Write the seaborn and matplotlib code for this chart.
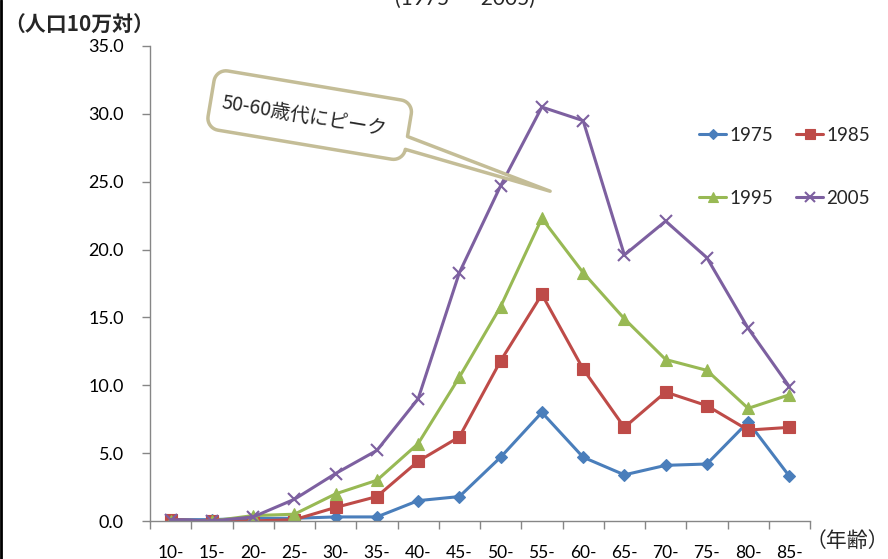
import numpy as np
import pandas as pd
import matplotlib
matplotlib.use("Agg")
import matplotlib.pyplot as plt
import seaborn as sns
from matplotlib.lines import Line2D
from matplotlib.patches import Polygon
from matplotlib.transforms import IdentityTransform

# ---- data -------------------------------------------------------------
age_groups = ["10-", "15-", "20-", "25-", "30-", "35-", "40-", "45-",
              "50-", "55-", "60-", "65-", "70-", "75-", "80-", "85-"]
years = ["1975", "1985", "1995", "2005"]

rate_1975 = [0.1, 0.1, 0.2, 0.2, 0.3, 0.3, 1.5, 1.8, 4.7, 8.0, 4.7, 3.4, 4.1, 4.2, 7.3, 3.3]
rate_1985 = [0.1, 0.0, 0.0, 0.1, 1.0, 1.8, 4.4, 6.2, 11.8, 16.7, 11.2, 6.9, 9.5, 8.5, 6.7, 6.9]
rate_1995 = [0.0, 0.0, 0.4, 0.5, 2.0, 3.0, 5.7, 10.6, 15.8, 22.3, 18.3, 14.9, 11.9, 11.1, 8.3, 9.3]
rate_2005 = [0.1, 0.0, 0.3, 1.6, 3.5, 5.2, 9.0, 18.3, 24.7, 30.5, 29.5, 19.6, 22.1, 19.4, 14.2, 9.9]

y_ticks = [0, 5, 10, 15, 20, 25, 30, 35]

series = {"1975": rate_1975, "1985": rate_1985, "1995": rate_1995, "2005": rate_2005}
colors = {"1975": "#4A7EBB", "1985": "#BE4B48", "1995": "#98B954", "2005": "#7D60A0"}
markers = {"1975": "D", "1985": "s", "1995": "^", "2005": "x"}
msizes = {"1975": 6, "1985": 8.5, "1995": 8.5, "2005": 8}

df = pd.DataFrame([
    {"year": y, "pos": i, "age": a, "rate": v}
    for y in years for i, (a, v) in enumerate(zip(age_groups, series[y]))
])

# ---- figure -----------------------------------------------------------
sns.set_theme(style="white")
plt.rcParams["font.family"] = ["Lato", "Noto Sans CJK JP", "DejaVu Sans"]

W_PX, H_PX = 888, 559
fig = plt.figure(figsize=(W_PX / 100, H_PX / 100), dpi=100)
ax = fig.add_axes([150 / W_PX, 38 / H_PX, 660 / W_PX, 475 / H_PX])

for y in years:
    sub = df[df["year"] == y]
    sns.lineplot(data=sub, x="pos", y="rate", ax=ax, color=colors[y],
                 marker=markers[y], markersize=msizes[y],
                 markeredgecolor=colors[y], markerfacecolor=colors[y],
                 markeredgewidth=1.5 if y == "2005" else 0.8,
                 linewidth=2.2, legend=False)

# ---- axes styling -----------------------------------------------------
ax.set_xlim(-0.5, len(age_groups) - 0.5)
ax.set_ylim(0, 35)
ax.set_yticks(y_ticks)
ax.set_yticklabels([f"{v:.1f}" for v in y_ticks], fontsize=13, color="black")
ax.set_xticks(range(len(age_groups)))
ax.set_xticklabels(age_groups, fontsize=12.5, color="black")
ax.set_xticks(np.arange(-0.5, len(age_groups), 1.0), minor=True)
ax.set_xlabel("")
ax.set_ylabel("")
for side in ["top", "right"]:
    ax.spines[side].set_visible(False)
for side in ["left", "bottom"]:
    ax.spines[side].set_color("#868686")
    ax.spines[side].set_linewidth(1.0)
ax.tick_params(axis="y", which="major", direction="out", length=6, width=1,
               color="#868686", pad=13, left=True)
ax.tick_params(axis="x", which="major", length=0, pad=17)
ax.tick_params(axis="x", which="minor", direction="out", length=6, width=1,
               color="#868686", bottom=True)
ax.grid(False)

# axis titles
fig.text(79 / W_PX, 1 - 25 / H_PX, "（人口10万対）", ha="center", va="center",
         fontsize=15, fontweight="bold", family=["Noto Sans CJK JP", "DejaVu Sans"])
fig.text(847 / W_PX, 1 - 541 / H_PX, "（年齢）", ha="center", va="center",
         fontsize=15, family=["Noto Sans CJK JP", "DejaVu Sans"])

# chart subtitle (upper part runs off the top edge)
fig.text(465 / W_PX, 1 - 5 / H_PX, "(1975 ～ 2005)", ha="center", va="baseline",
         fontsize=15, family=["Lato", "Noto Sans CJK JP"])

# ---- legend -----------------------------------------------------------
order = ["1975", "1995", "1985", "2005"]
handles = [Line2D([], [], color=colors[y], marker=markers[y], markersize=msizes[y] * 0.9,
                  markeredgecolor=colors[y], markerfacecolor=colors[y],
                  markeredgewidth=1.5 if y == "2005" else 0.8, linewidth=2.2)
           for y in order]
fig.legend(handles, order, ncol=2, frameon=False, loc="upper left",
           bbox_to_anchor=(699 / W_PX, 1 - 127 / H_PX), borderpad=0, borderaxespad=0,
           fontsize=13.5, handlelength=1.45, handletextpad=0.15, columnspacing=1.25,
           labelspacing=2.45)

# ---- callout ------------------------------------------------------------
def to_img(disp):
    return disp[0], H_PX - disp[1]

tip_img = to_img(ax.transData.transform((9.2, 24.3)))
ang = np.radians(9.5)
ex = np.array([np.cos(ang), np.sin(ang)])     # along box top edge (image coords)
ey = np.array([-np.sin(ang), np.cos(ang)])    # box "down" direction (image coords)
origin = np.array([216.0, 69.0])
BW, BH, R = 200.0, 60.0, 12.0

local = []
def arc(cx, cy, a0, a1):
    for a in np.linspace(np.radians(a0), np.radians(a1), 10):
        local.append((cx + R * np.cos(a), cy + R * np.sin(a)))

arc(R, R, 180, 270)
arc(BW - R, R, 270, 360)
local.append((BW, 35.0))
local.append(None)            # tail tip placeholder
local.append((BW, BH - R))
arc(BW - R, BH - R, 0, 90)
arc(R, BH - R, 90, 180)

pts = []
for p in local:
    if p is None:
        img = np.array(tip_img)
    else:
        img = origin + p[0] * ex + p[1] * ey
    pts.append((img[0], H_PX - img[1]))

fig.add_artist(Polygon(pts, closed=True, transform=IdentityTransform(),
                       facecolor="white", edgecolor="#C4BD97", linewidth=2.5,
                       joinstyle="round", zorder=5))
tc = origin + (BW / 2 - 5) * ex + (BH / 2 + 2) * ey
fig.text(tc[0] / W_PX, 1 - tc[1] / H_PX, "50-60歳代にピーク", ha="center", va="center",
         rotation=-9.5, rotation_mode="anchor", fontsize=14, zorder=6,
         family=["Noto Sans CJK JP", "DejaVu Sans"])

# thin frame line on the left edge
fig.add_artist(Line2D([1 / W_PX, 1 / W_PX], [0, 1], transform=fig.transFigure,
                      color="black", linewidth=2))

fig.savefig("out.png", dpi=100)
